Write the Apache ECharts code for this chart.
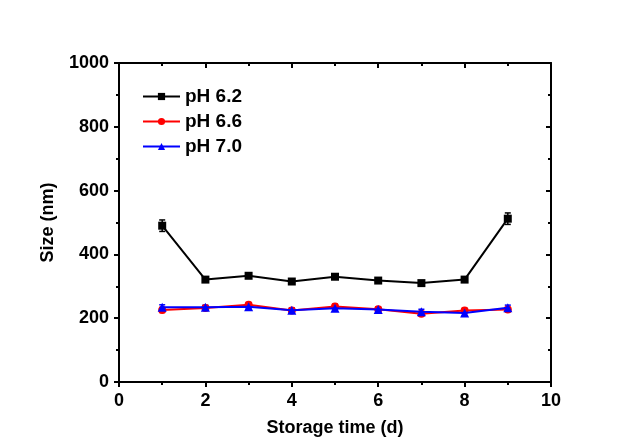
<!DOCTYPE html>
<html>
<head>
<meta charset="utf-8">
<script src="https://cdn.jsdelivr.net/npm/echarts@6/dist/echarts.min.js"></script>
<style>
  html, body { margin: 0; padding: 0; background: #fff; }
  #chart { width: 623px; height: 447px; }
</style>
</head>
<body>
<div id="chart"></div>
<script>
// storage time (days)
const days = [1, 2, 3, 4, 5, 6, 7, 8, 9];

// mean particle size (nm) and error
const ph62 = [490, 321, 333, 315, 330, 318, 310, 321, 512];
const ph62Err = [18, 8, 7, 8, 7, 7, 7, 7, 18];
const ph66 = [226, 232, 242, 224, 237, 228, 214, 224, 227];
const ph66Err = [8, 7, 7, 7, 7, 7, 7, 7, 7];
const ph70 = [234, 234, 236, 225, 231, 227, 220, 216, 233];
const ph70Err = [8, 7, 7, 7, 7, 7, 8, 8, 8];

const seriesNames = ['pH 6.2', 'pH 6.6', 'pH 7.0'];
const colors = ['#000000', '#ff0000', '#0000ff'];

function pairs(ys) {
    return days.map(function (d, i) { return [d, ys[i]]; });
}

function errorBars(ys, errs, color) {
    return {
        type: 'custom',
        silent: true,
        z: 1,
        data: days.map(function (d, i) { return [d, ys[i] - errs[i], ys[i] + errs[i]]; }),
        renderItem: function (params, api) {
            const lo = api.coord([api.value(0), api.value(1)]);
            const hi = api.coord([api.value(0), api.value(2)]);
            const w = 3;
            const style = { stroke: color, lineWidth: 1.5 };
            return {
                type: 'group',
                children: [
                    { type: 'line', shape: { x1: lo[0], y1: lo[1], x2: hi[0], y2: hi[1] }, style: style },
                    { type: 'line', shape: { x1: lo[0] - w, y1: lo[1], x2: lo[0] + w, y2: lo[1] }, style: style },
                    { type: 'line', shape: { x1: hi[0] - w, y1: hi[1], x2: hi[0] + w, y2: hi[1] }, style: style }
                ]
            };
        }
    };
}

const font = 'Arial, "Liberation Sans", sans-serif';
const axisLine = { show: true, onZero: false, lineStyle: { color: '#000', width: 2 } };
const labelStyle = { fontFamily: font, fontWeight: 'bold', fontSize: 18, color: '#000', margin: 10 };
const nameStyle = { fontFamily: font, fontWeight: 'bold', fontSize: 18, color: '#000' };

let myChart = echarts.init(document.getElementById('chart'));

let option = {
    backgroundColor: '#ffffff',
    animation: false,
    grid: { left: 119, right: 72, top: 63, bottom: 65 },
    legend: {
        orient: 'vertical',
        left: 137,
        top: 82,
        itemWidth: 37,
        itemHeight: 9,
        itemGap: 6,
        data: seriesNames,
        textStyle: { fontFamily: font, fontWeight: 'bold', fontSize: 19, color: '#000' }
    },
    xAxis: [{
        type: 'value',
        min: 0,
        max: 10,
        interval: 2,
        name: 'Storage time (d)',
        nameLocation: 'middle',
        nameGap: 37,
        nameTextStyle: nameStyle,
        axisLine: axisLine,
        axisTick: { show: true, inside: false, length: 5, lineStyle: { color: '#000', width: 2 } },
        minorTick: { show: true, splitNumber: 2, length: 3, lineStyle: { color: '#000', width: 2 } },
        splitLine: { show: false },
        axisLabel: labelStyle
    }, {
        type: 'value',
        position: 'top',
        min: 0,
        max: 10,
        interval: 2,
        axisLine: axisLine,
        axisTick: { show: true, inside: true, length: 5, lineStyle: { color: '#000', width: 2 } },
        minorTick: { show: true, splitNumber: 2, length: 3, lineStyle: { color: '#000', width: 2 } },
        splitLine: { show: false },
        axisLabel: { show: false }
    }],
    yAxis: [{
        type: 'value',
        min: 0,
        max: 1000,
        interval: 200,
        name: 'Size (nm)',
        nameLocation: 'middle',
        nameGap: 62,
        nameTextStyle: nameStyle,
        axisLine: axisLine,
        axisTick: { show: true, inside: false, length: 5, lineStyle: { color: '#000', width: 2 } },
        minorTick: { show: true, splitNumber: 2, length: 3, lineStyle: { color: '#000', width: 2 } },
        splitLine: { show: false },
        axisLabel: Object.assign({}, labelStyle, { formatter: function (v) { return String(v); } })
    }, {
        type: 'value',
        position: 'right',
        min: 0,
        max: 1000,
        interval: 200,
        axisLine: axisLine,
        axisTick: { show: true, inside: true, length: 5, lineStyle: { color: '#000', width: 2 } },
        minorTick: { show: true, splitNumber: 2, length: 3, lineStyle: { color: '#000', width: 2 } },
        splitLine: { show: false },
        axisLabel: { show: false }
    }],
    series: [
        errorBars(ph62, ph62Err, colors[0]),
        errorBars(ph66, ph66Err, colors[1]),
        errorBars(ph70, ph70Err, colors[2]),
        {
            name: seriesNames[0],
            type: 'line',
            data: pairs(ph62),
            symbol: 'rect',
            symbolSize: 8,
            color: colors[0],
            lineStyle: { width: 2 },
            z: 3
        }, {
            name: seriesNames[1],
            type: 'line',
            data: pairs(ph66),
            symbol: 'circle',
            symbolSize: 8,
            color: colors[1],
            lineStyle: { width: 2 },
            z: 4
        }, {
            name: seriesNames[2],
            type: 'line',
            data: pairs(ph70),
            symbol: 'triangle',
            symbolSize: 9,
            color: colors[2],
            lineStyle: { width: 2 },
            z: 5
        }
    ]
};

option && myChart.setOption(option);
</script>
</body>
</html>
